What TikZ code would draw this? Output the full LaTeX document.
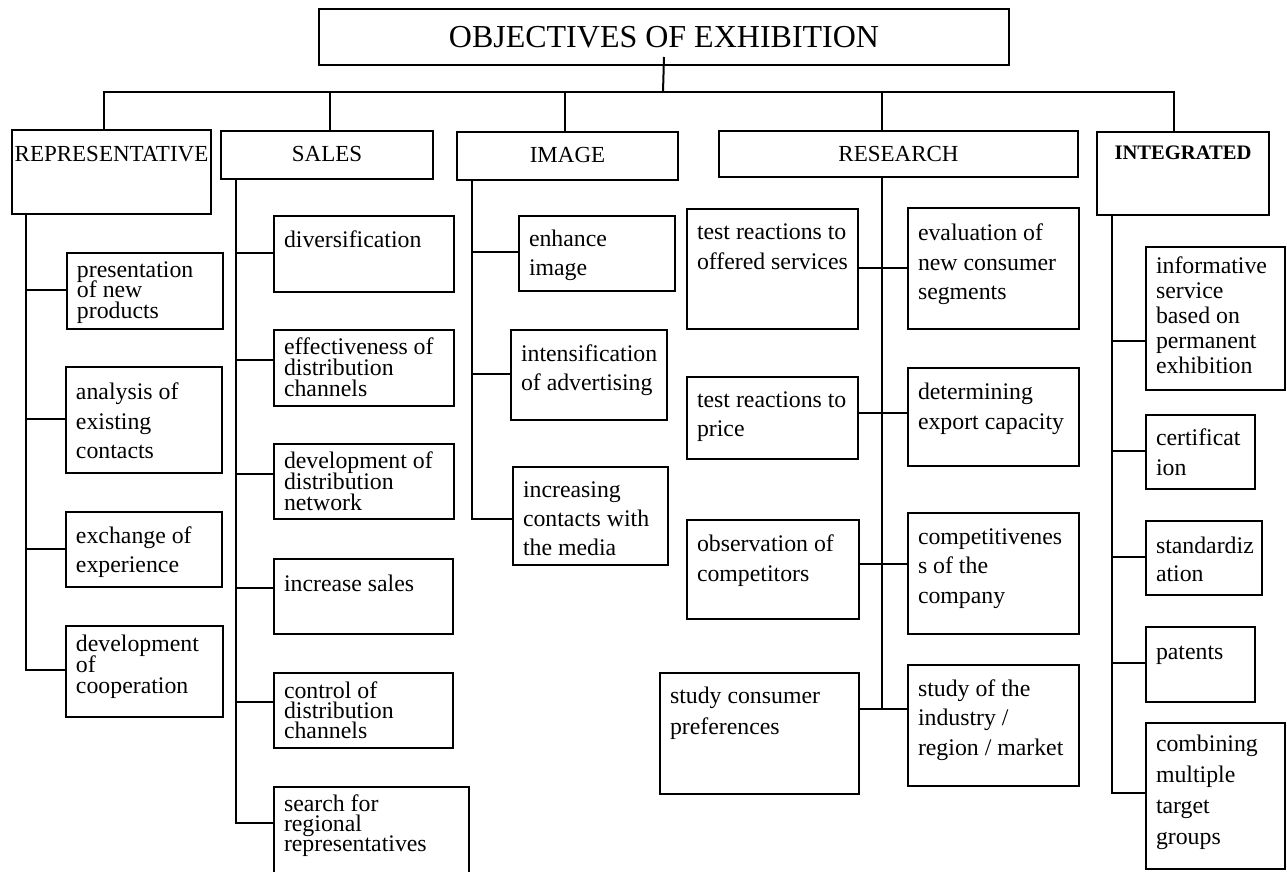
\documentclass[tikz,border=0pt]{standalone}
\usepackage{fontspec}
\setmainfont{Liberation Serif}
\usetikzlibrary{calc}
\tikzset{
  ln/.style={line width=1pt, black},
  bxs/.style={draw, line width=1pt, inner sep=0pt, anchor=north west,
    font=\fontsize{11.9pt}{15pt}\selectfont},
}
% #1 name, #2 x1, #3 y1, #4 x2, #5 y2, #6 first baseline y, #7 line skip, #8 format, #9 text
\newcommand\bx[9]{%
  \node[bxs] (#1) at (#2,#3) {\parbox[t][\dimexpr(#5pt-#3pt)/2\relax][t]{\dimexpr(#4pt-#2pt)/2\relax}{#8\lineskiplimit=-100pt\baselineskip=\dimexpr#7pt/2\relax\vspace*{\dimexpr(#6pt-#3pt-#7pt)/2\relax}\prevdepth=0pt #9\par}};}
\newcommand\hdr{\fontsize{11.5pt}{14pt}\selectfont\centering}
\newcommand\btx{\raggedright\leftskip=5pt}
\newcommand\conn[4]{\draw[ln] ($(#1.south west)+(#2,0)$) |- ($(#3.north west)+(0,#4)$);}
\begin{document}
\begin{tikzpicture}[x=0.5pt,y=-0.5pt]
\useasboundingbox (0,0) rectangle (1287,872);
\clip (0,0) rectangle (1287,872);
\fill[white] (0,0) rectangle (1287,872);

% title
\node[draw, line width=1pt, anchor=north west, minimum width=345pt, minimum height=28pt,
  inner sep=0pt, font=\fontsize{16pt}{18pt}\selectfont] (title) at (318,8) {OBJECTIVES OF EXHIBITION};

% level 1
\bx{rep}{11}{129}{210}{213}{161}{30}{\hdr}{REPRESENTATIVE}
\bx{sales}{220}{130}{432}{178}{161}{30}{\hdr}{SALES}
\bx{image}{456}{131}{677}{179}{162}{30}{\hdr}{IMAGE}
\bx{research}{718}{130}{1077}{176}{161}{30}{\hdr}{RESEARCH}
\bx{integ}{1096}{131}{1268}{214}{159}{30}{\fontsize{10.3pt}{12pt}\selectfont\bfseries\centering}{INTEGRATED}

% representative
\bx{pres}{66}{252}{222}{328}{277}{20}{\btx}{presentation\\of new\\products}
\bx{anal}{65}{366}{221}{472}{398}{30}{\btx}{analysis of\\existing\\contacts}
\bx{exch}{65}{511}{221}{586}{542}{29}{\btx}{exchange of\\experience}
\bx{devc}{65}{625}{222}{716}{650}{21}{\btx}{development\\of\\cooperation}

% sales
\bx{div}{273}{215}{453}{291}{247}{30}{\btx}{diversification}
\bx{eff}{273}{329}{453}{405}{353}{21}{\btx}{effectiveness of\\distribution\\channels}
\bx{devn}{273}{443}{453}{518}{468}{20.5}{\btx}{development of\\distribution\\network}
\bx{inc}{273}{558}{452}{633}{590}{30}{\btx}{increase sales}
\bx{ctl}{273}{672}{452}{747}{697}{20}{\btx}{control of\\distribution\\channels}
\bx{srch}{273}{786}{468}{890}{810}{20}{\btx}{search for\\regional\\representatives}

% image
\bx{enh}{518}{215}{674}{290}{246}{29}{\btx}{enhance\\image}
\bx{ints}{510}{329}{666}{419}{360}{29}{\btx}{intensification\\of advertising}
\bx{incm}{512}{466}{667}{564}{496}{29}{\btx}{increasing\\contacts with\\the media}

% research
\bx{tro}{686}{208}{857}{328}{239}{30}{\btx}{test reactions to\\offered services}
\bx{tpr}{686}{376}{857}{458}{407}{29}{\btx}{test reactions to\\price}
\bx{obs}{686}{519}{858}{618}{550}{30}{\btx}{observation of\\competitors}
\bx{scp}{659}{672}{858}{793}{702}{31}{\btx}{study consumer\\preferences}
\bx{eval}{907}{207}{1078}{328}{240}{29.5}{\btx}{evaluation of\\new consumer\\segments}
\bx{det}{907}{367}{1078}{465}{399}{29}{\btx}{determining\\export capacity}
\bx{comp}{907}{512}{1078}{633}{543}{29.5}{\btx}{competitivenes\\s of the\\company}
\bx{sind}{907}{664}{1078}{785}{695}{29.5}{\btx}{study of the\\industry /\\region / market}

% integrated
\bx{inf}{1145}{246}{1284}{389}{273}{25}{\btx}{informative\\service\\based on\\permanent\\exhibition}
\bx{cert}{1145}{414}{1254}{488}{445}{30}{\btx}{certificat\\ion}
\bx{std}{1145}{520}{1261}{594}{552}{28}{\btx}{standardiz\\ation}
\bx{pat}{1145}{626}{1254}{701}{658}{30}{\btx}{patents}
\bx{comb}{1145}{722}{1284}{868}{750}{31}{\btx}{combining\\multiple\\target\\groups}

% top bus
\coordinate (bus) at (663,92);
\draw[ln] ($(title.south)+(0,-9)$) -- (bus);
\draw[ln] ($(rep.north west)+(93,0)$) |- (bus) -| ($(integ.north west)+(78,0)$);
\draw[ln] ($(sales.north west)+(110,0)$) |- (bus);
\draw[ln] ($(image.north west)+(109,0)$) |- (bus);
\draw[ln] ($(research.north west)+(164,0)$) |- (bus);

% representative branches
\conn{rep}{15}{pres}{38}
\conn{rep}{15}{anal}{53}
\conn{rep}{15}{exch}{38}
\conn{rep}{15}{devc}{45}

% sales branches
\conn{sales}{16}{div}{38}
\conn{sales}{16}{eff}{31}
\conn{sales}{16}{devn}{31}
\conn{sales}{16}{inc}{30}
\conn{sales}{16}{ctl}{30}
\conn{sales}{16}{srch}{37}

% image branches
\conn{image}{16}{enh}{37}
\conn{image}{16}{ints}{45}
\conn{image}{16}{incm}{53}

% integrated branches
\conn{integ}{16}{inf}{95}
\conn{integ}{16}{cert}{37}
\conn{integ}{16}{std}{37}
\conn{integ}{16}{pat}{37}
\conn{integ}{16}{comb}{71}

% research
\draw[ln] ($(research.south west)+(164,0)$) |- ($(sind.north west)+(0,45)$);
\draw[ln] ($(scp.north east)+(0,37)$) -- ($(sind.north west)+(0,45)$);
\draw[ln] ($(tro.north east)+(0,60)$) -- ($(eval.north west)+(0,61)$);
\draw[ln] ($(tpr.north east)+(0,37)$) -- ($(det.north west)+(0,46)$);
\draw[ln] ($(obs.north east)+(0,45)$) -- ($(comp.north west)+(0,52)$);
\end{tikzpicture}
\end{document}
